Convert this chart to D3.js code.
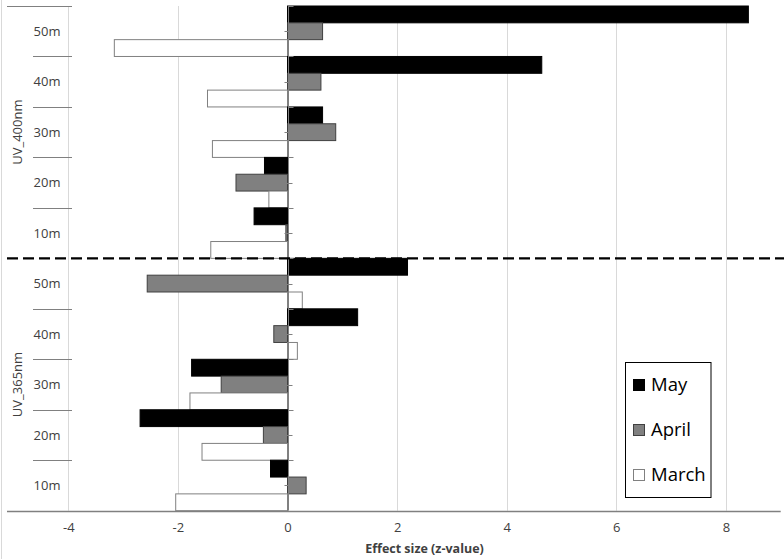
<!DOCTYPE html>
<html>
<head>
<meta charset="utf-8">
<script src="https://cdn.jsdelivr.net/npm/d3@7"></script>
<style>
  html, body { margin: 0; padding: 0; background: #fff; }
  svg { display: block; font-family: "Open Sans", "Noto Sans", sans-serif; }
</style>
</head>
<body>
<svg id="chart" width="784" height="559"></svg>
<script>
// ---- data ----
const groups = ["UV_400nm", "UV_365nm"];
const depths = ["50m", "40m", "30m", "20m", "10m"];
const seriesNames = ["May", "April", "March"];
// values listed top to bottom: UV_400nm 50m..10m, then UV_365nm 50m..10m
const mayValues   = [8.41, 4.64, 0.64, -0.42, -0.61, 2.19, 1.28, -1.75, -2.69, -0.31];
const aprilValues = [0.64, 0.61, 0.88, -0.94, -0.03, -2.56, -0.25, -1.21, -0.44, 0.34];
const marchValues = [-3.16, -1.46, -1.37, -0.34, -1.40, 0.27, 0.18, -1.78, -1.56, -2.04];
const xTicks = [-4, -2, 0, 2, 4, 6, 8];
const xTitle = "Effect size (z-value)";

// ---- build ----
const categories = [];
groups.forEach(g => depths.forEach(d => categories.push(g + "|" + d)));
const seriesValues = { "May": mayValues, "April": aprilValues, "March": marchValues };
const seriesFill = { "May": "#000000", "April": "#808080", "March": "#ffffff" };
const seriesStroke = { "May": "#000000", "April": "#404040", "March": "#808080" };

const svg = d3.select("#chart");
const mLeft = 13.5, mRight = 780.7, mTop = 6, mBottom = 510.7;

const x = d3.scaleLinear().domain([-5, 9]).range([mLeft, mRight]);
const y = d3.scaleBand().domain(categories).range([mTop, mBottom]).padding(0);
const yInner = d3.scaleBand().domain(seriesNames).range([0, y.bandwidth()]).padding(0);

// faint outer border on the left
svg.append("line").attr("x1", 1.5).attr("x2", 1.5).attr("y1", 0).attr("y2", 559)
  .attr("stroke", "#d9d9d9").attr("stroke-width", 1);

// gridlines
svg.append("g").selectAll("line").data(xTicks.filter(t => t !== 0)).join("line")
  .attr("x1", d => Math.round(x(d)) + 0.5).attr("x2", d => Math.round(x(d)) + 0.5)
  .attr("y1", mTop).attr("y2", mBottom)
  .attr("stroke", "#d9d9d9").attr("stroke-width", 1);

// bars
const barData = [];
categories.forEach((c, i) => seriesNames.forEach(s => barData.push({ c, s, v: seriesValues[s][i] })));
svg.append("g").selectAll("rect").data(barData).join("rect")
  .attr("x", d => x(Math.min(0, d.v)))
  .attr("width", d => Math.abs(x(d.v) - x(0)))
  .attr("y", d => y(d.c) + yInner(d.s))
  .attr("height", yInner.bandwidth())
  .attr("fill", d => seriesFill[d.s])
  .attr("stroke", d => seriesStroke[d.s])
  .attr("stroke-width", 1);

// vertical axis line at zero
const x0 = Math.round(x(0)) + 0.5;
svg.append("line").attr("x1", x0).attr("x2", x0).attr("y1", mTop).attr("y2", mBottom)
  .attr("stroke", "#808080").attr("stroke-width", 1);

// ticks on the category axis
const tickG = svg.append("g").attr("stroke", "#808080").attr("stroke-width", 1);
categories.forEach(c => {
  const yc = Math.round(y(c) + y.bandwidth() / 2) + 0.5;
  tickG.append("line").attr("x1", x0 - 4).attr("x2", x0 + 4).attr("y1", yc).attr("y2", yc);
  const yb = Math.round(y(c)) + 0.5;
  tickG.append("line").attr("x1", x0).attr("x2", x0 + 5).attr("y1", yb).attr("y2", yb);
});

// category label separators
const sepG = svg.append("g").attr("stroke", "#808080").attr("stroke-width", 1);
categories.forEach((c, i) => {
  const yb = Math.round(y(c)) + 0.5;
  const outer = (i % depths.length === 0);
  if (outer && i !== 0) return; // the dashed line covers the group boundary
  sepG.append("line").attr("x1", outer ? 7 : 33).attr("x2", 72).attr("y1", yb).attr("y2", yb);
});

// bottom axis line
svg.append("line").attr("x1", 7).attr("x2", mRight).attr("y1", Math.round(mBottom) + 0.5).attr("y2", Math.round(mBottom) + 0.5)
  .attr("stroke", "#808080").attr("stroke-width", 1.3);

// dashed separator between groups
const ySplit = y(groups[1] + "|" + depths[0]);
svg.append("line").attr("x1", 7).attr("x2", 784).attr("y1", ySplit).attr("y2", ySplit)
  .attr("stroke", "#000").attr("stroke-width", 2.2).attr("stroke-dasharray", "11,5");

// depth labels
svg.append("g").selectAll("text").data(categories).join("text")
  .attr("x", 47).attr("y", d => y(d) + y.bandwidth() / 2)
  .attr("dy", "0.35em").attr("text-anchor", "middle")
  .attr("font-size", 13).attr("fill", "#404040")
  .text(d => d.split("|")[1]);

// group labels (rotated)
groups.forEach(g => {
  const y1 = y(g + "|" + depths[0]);
  const y2 = y(g + "|" + depths[depths.length - 1]) + y.bandwidth();
  const yc = (y1 + y2) / 2;
  svg.append("text")
    .attr("transform", `translate(17,${yc}) rotate(-90)`)
    .attr("dy", "0.35em").attr("text-anchor", "middle")
    .attr("font-size", 13).attr("fill", "#404040")
    .text(g);
});

// x axis tick labels
const xAxis = d3.axisBottom(x).tickValues(xTicks).tickSize(0).tickPadding(12).tickFormat(d => String(d));
const ax = svg.append("g").attr("transform", `translate(0,${mBottom})`).call(xAxis);
ax.select(".domain").remove();
ax.selectAll("text").attr("font-size", 13).attr("fill", "#404040")
  .attr("font-family", "'Open Sans', 'Noto Sans', sans-serif");

// axis title
svg.append("text").attr("x", 424.5).attr("y", 549).attr("dy", "0.35em")
  .attr("text-anchor", "middle").attr("font-size", 12.5).attr("font-weight", "bold")
  .attr("fill", "#404040").text(xTitle);

// legend
const lg = svg.append("g");
lg.append("rect").attr("x", 625.5).attr("y", 362.5).attr("width", 85.5).attr("height", 135)
  .attr("fill", "#fff").attr("stroke", "#000").attr("stroke-width", 1);
const legendY = d3.scalePoint().domain(seriesNames).range([385, 475]);
seriesNames.forEach(s => {
  const yy = legendY(s);
  lg.append("rect").attr("x", 633.5).attr("y", yy - 5.5).attr("width", 11).attr("height", 11)
    .attr("fill", seriesFill[s]).attr("stroke", seriesStroke[s]).attr("stroke-width", 1);
  lg.append("text").attr("x", 651).attr("y", yy).attr("dy", "0.35em")
    .attr("font-size", 18.5).attr("fill", "#000").text(s);
});
</script>
</body>
</html>
